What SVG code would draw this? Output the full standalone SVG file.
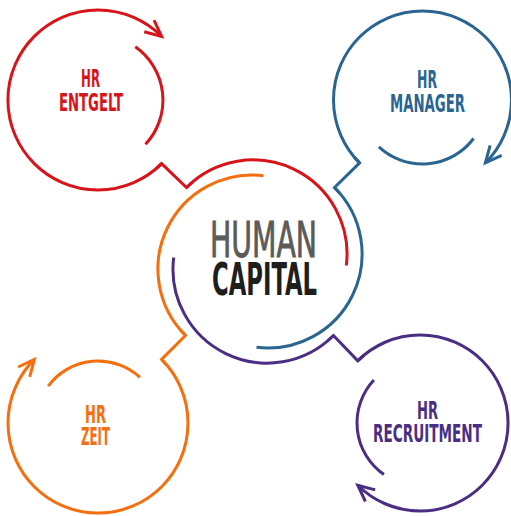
<svg xmlns="http://www.w3.org/2000/svg" width="511" height="516" viewBox="0 0 511 516">
<style>
.ln{fill:none;stroke-width:3;stroke-linecap:butt;stroke-linejoin:miter}
.ah{fill:none;stroke-width:3;stroke-linecap:butt;stroke-linejoin:miter}
.red{stroke:#d7141a}.blue{stroke:#2a6592}.orange{stroke:#f46f0f}.purple{stroke:#4b2e83}
.lbl{font-family:"DejaVu Sans","Liberation Sans",sans-serif;font-stretch:condensed;font-weight:700;font-size:24px;text-anchor:middle}
.big{font-family:"DejaVu Sans","Liberation Sans",sans-serif;font-stretch:condensed}
</style>
<rect width="511" height="516" fill="#ffffff"/>
<g id="connectors">
<path class="ln red" d="M155.9 168.9 L161.6 163.6 L186.5 187.5 L192.6 182"/>
<path class="ln blue" d="M354.3 157.2 L359.6 162.9 L334.5 187.5 L340 193.6"/>
<path class="ln orange" d="M166.9 365.2 L161.6 359.4 L185.5 335.5 L180 329.4"/>
<path class="ln purple" d="M327.4 341 L333.5 335.5 L357.8 360.8 L363.4 355.6"/>
</g>
<g id="human-capital">
<path class="ln red" d="M186.5 187.5 A94 94 0 0 1 346.3 265.5"/>
<path class="ln blue" d="M334.5 187.5 A94 94 0 0 1 256.5 347.3"/>
<path class="ln purple" d="M333.5 335.5 A94 94 0 0 1 173.7 257.5"/>
<path class="ln orange" d="M185.5 335.5 A94 94 0 0 1 263.5 175.7"/>
<text class="big" x="210" y="257" font-size="49" font-weight="400" fill="#5b5b57" stroke="#5b5b57" stroke-width="0.9" textLength="107" lengthAdjust="spacingAndGlyphs">HUMAN</text>
<text class="big" x="212" y="295" font-size="45" font-weight="700" fill="#1e1e1c" textLength="105" lengthAdjust="spacingAndGlyphs">CAPITAL</text>
</g>
<g id="hr-entgelt">
<path class="ln red" d="M161.6 36.4 A90 90 0 1 0 161.6 163.6"/>
<polyline class="ah red" points="144.2,31.7 161.6,36.4 154,20.1"/>
<path class="ln red" d="M135.3 46.8 A65 65 0 0 1 145.5 144.3"/>
<text class="lbl" fill="#d7141a" x="90.5" y="87" textLength="19" lengthAdjust="spacingAndGlyphs">HR</text>
<text class="lbl" fill="#d7141a" x="91" y="111" textLength="64" lengthAdjust="spacingAndGlyphs">ENTGELT</text>
</g>
<g id="hr-manager">
<path class="ln blue" d="M359.6 162.9 A89 89 0 1 1 485.4 162.9"/>
<polyline class="ah blue" points="490.1,145.5 485.4,162.9 501.7,155.3"/>
<path class="ln blue" d="M473.6 138.5 A64 64 0 0 1 378.9 146.8"/>
<text class="lbl" fill="#2a6592" x="427" y="88" textLength="20" lengthAdjust="spacingAndGlyphs">HR</text>
<text class="lbl" fill="#2a6592" x="427.5" y="112" textLength="75" lengthAdjust="spacingAndGlyphs">MANAGER</text>
</g>
<g id="hr-zeit">
<path class="ln orange" d="M161.6 359.4 A90 90 0 1 1 34.4 359.4"/>
<polyline class="ah orange" points="29.7,376.8 34.4,359.4 18.1,367"/>
<path class="ln orange" d="M48.2 386.1 A62 62 0 0 1 139.9 377.3"/>
<text class="lbl" fill="#f46f0f" x="95.5" y="423" textLength="21" lengthAdjust="spacingAndGlyphs">HR</text>
<text class="lbl" fill="#f46f0f" x="95.5" y="445" textLength="29" lengthAdjust="spacingAndGlyphs">ZEIT</text>
</g>
<g id="hr-recruitment">
<path class="ln purple" d="M357.8 360.8 A88 88 0 1 1 357.8 485.2"/>
<polyline class="ah purple" points="375.2,489.9 357.8,485.2 365.4,501.5"/>
<path class="ln purple" d="M383.9 474.6 A63 63 0 0 1 373.9 380"/>
<text class="lbl" fill="#4b2e83" x="427.5" y="419" textLength="21" lengthAdjust="spacingAndGlyphs">HR</text>
<text class="lbl" fill="#4b2e83" x="427.5" y="442" textLength="109" lengthAdjust="spacingAndGlyphs">RECRUITMENT</text>
</g>
</svg>
